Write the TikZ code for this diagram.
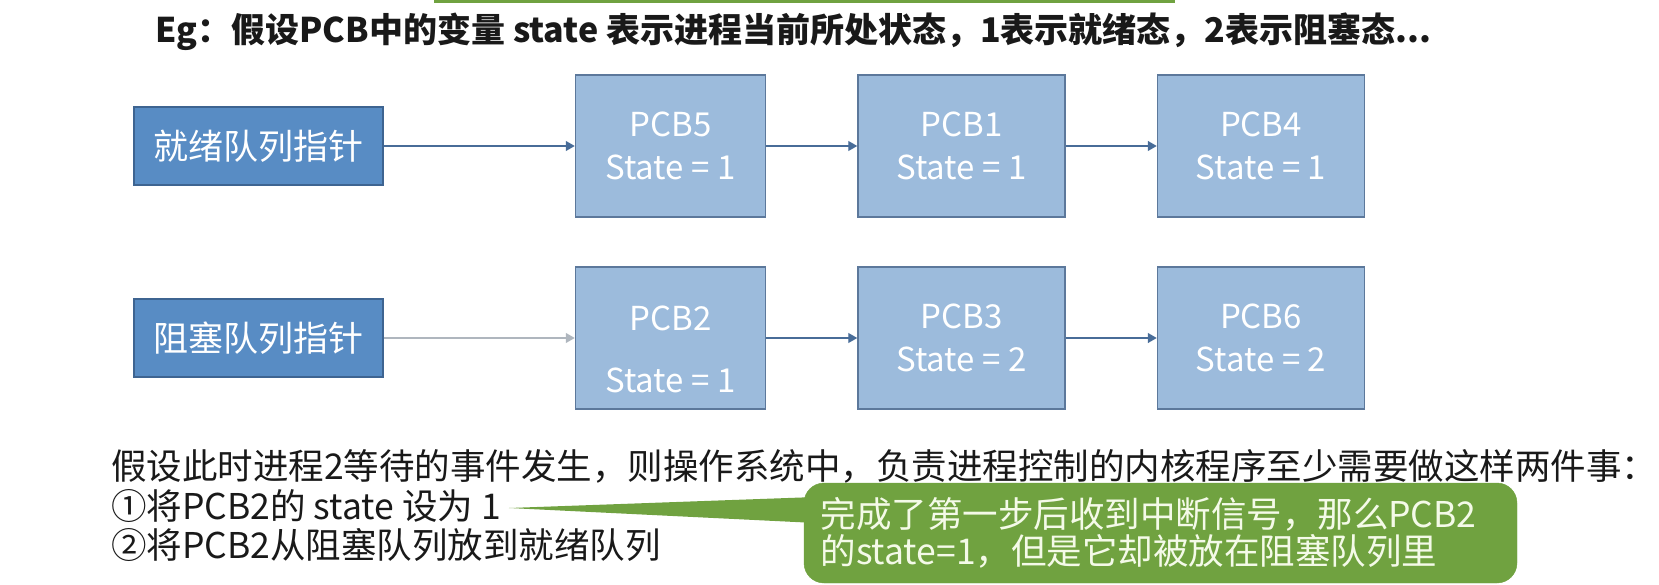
\documentclass[tikz,border=0pt]{standalone}
\usepackage{fontspec}
\setmainfont{Noto Sans CJK SC}
\usetikzlibrary{arrows.meta,positioning}
\definecolor{ptrfill}{RGB}{88,140,196}
\definecolor{ptrline}{RGB}{62,100,145}
\definecolor{pcbfill}{RGB}{156,187,220}
\definecolor{pcbline}{RGB}{92,120,155}
\definecolor{linkcol}{RGB}{72,108,152}
\definecolor{linkgray}{RGB}{175,182,190}
\definecolor{callgreen}{RGB}{112,162,64}
\definecolor{calltext}{RGB}{244,250,232}
\definecolor{textcol}{RGB}{25,25,25}

\tikzset{
  ptrbox/.style={draw=ptrline, line width=1.5pt, fill=ptrfill, minimum width=249pt, minimum height=78pt,
    text=white, font=\fontsize{35}{42}\selectfont},
  pcbbox/.style={draw=pcbline, line width=1.5pt, fill=pcbfill, minimum width=207pt, minimum height=142pt,
    text=white, align=center, font=\fontsize{33}{43}\selectfont},
  link/.style={-{Triangle[length=9pt,width=10pt]}, draw=linkcol, line width=1.3pt},
  bodytext/.style={inner sep=0pt, anchor=west, text=textcol, font=\fontsize{35.5}{44}\selectfont},
}

\begin{document}
\begin{tikzpicture}[x=1pt,y=-1pt]
  \useasboundingbox (0,0) rectangle (1659,585);
  % edge of the green note above
  \fill[callgreen] (434,0) rectangle (1175,3);

  \node[inner sep=0pt, anchor=west, text=textcol, font=\bfseries\fontsize{34}{40}\selectfont] (title) at (155,32)
    {Eg：假设PCB中的变量 state 表示进程当前所处状态，1表示就绪态，2表示阻塞态...};

  % ready queue
  \node[ptrbox] (ready) at (258.5,146) {就绪队列指针};
  \node[pcbbox, minimum width=190pt, right=191pt of ready] (pcb5) {PCB5\\State = 1};
  \node[pcbbox, right=91pt of pcb5] (pcb1) {PCB1\\State = 1};
  \node[pcbbox, right=91pt of pcb1] (pcb4) {PCB4\\State = 1};

  % blocked queue
  \node[ptrbox] (blocked) at (258.5,338) {阻塞队列指针};
  \node[pcbbox, minimum width=190pt, right=191pt of blocked] (pcb2) {\rule{0pt}{48pt}PCB2\\[19pt]State = 1};
  \node[pcbbox, right=91pt of pcb2] (pcb3) {PCB3\\State = 2};
  \node[pcbbox, right=91pt of pcb3] (pcb6) {PCB6\\State = 2};

  \draw[link] (ready) -- (pcb5);
  \draw[link] (pcb5) -- (pcb1);
  \draw[link] (pcb1) -- (pcb4);
  \draw[link, draw=linkgray] (blocked) -- (pcb2);
  \draw[link] (pcb2) -- (pcb3);
  \draw[link] (pcb3) -- (pcb6);

  % the two steps
  \node[bodytext] (note) at (111,466) {假设此时进程2等待的事件发生，则操作系统中，负责进程控制的内核程序至少需要做这样两件事：};
  \node[bodytext, below=40pt of note.west, anchor=west] (stepone) {①将PCB2的 state 设为 1};
  \node[bodytext, below=39pt of stepone.west, anchor=west] (steptwo) {②将PCB2从阻塞队列放到就绪队列};

  % callout
  \node[draw=callgreen, fill=callgreen, rounded corners=20pt, minimum width=713pt, minimum height=100pt,
    text width=680pt, align=left, text=calltext, font=\fontsize{35.5}{37}\selectfont] (callout) at (1160.5,533)
    {完成了第一步后收到中断信号，那么PCB2\\的state=1，但是它却被放在阻塞队列里};
  \coordinate (tip) at ([xshift=8pt,yshift=-2pt]stepone.east);
  \fill[callgreen] (tip) -- ([xshift=12pt,yshift=36pt]callout.west) -- ([xshift=12pt,yshift=10pt]callout.west) -- cycle;
\end{tikzpicture}
\end{document}
